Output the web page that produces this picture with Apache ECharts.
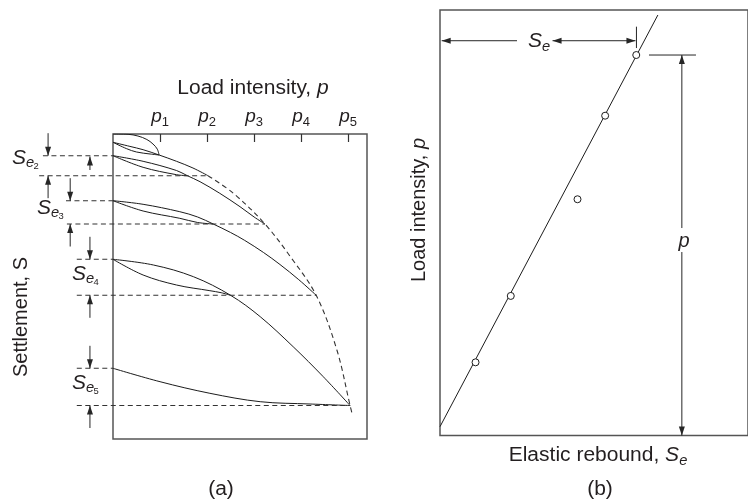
<!DOCTYPE html>
<html>
<head>
<meta charset="utf-8">
<script src="https://cdn.jsdelivr.net/npm/echarts@6/dist/echarts.min.js"></script>
<style>
html, body { margin: 0; padding: 0; background: #ffffff; }
#chart { width: 748px; height: 503px; }
</style>
</head>
<body>
<div id="chart"></div>
<script>
// ================= DATA =================
// Panel (a): settlement S (downwards) versus load intensity p (p measured in load steps)
const pTickValues = [1, 2, 3, 4, 5];
const pTickNames = ['1', '2', '3', '4', '5'];
const cycleNames = ['2', '3', '4', '5'];
const residualS = [2.17, 6.67, 12.53, 23.43];   // settlement after unloading (top of S_e)
const peakS = [4.17, 9.0, 16.13, 27.15];         // settlement at the peak load (bottom of S_e)
const peakP = [2.02, 3.23, 4.32, 5.04];          // load at each peak

const firstLoading = [[0, 0], [0.32, 0.03], [0.53, 0.2], [0.72, 0.55], [0.85, 1.0], [0.94, 1.5], [0.98, 2.1]];
const unload1 = [[0.98, 2.1], [0.79, 2.0], [0.5, 1.8], [0.29, 1.47], [0, 0.83]];
const reload1 = [[0, 0.83], [0.36, 1.24], [0.64, 1.57], [0.98, 2.1], [1.35, 2.73], [1.7, 3.4], [2.02, 4.17]];
const unload2 = [[1.58, 4.17], [1.35, 4.07], [0.64, 3.33], [0, 2.17]];
const reload2 = [[0, 2.17], [0.64, 2.73], [1.35, 3.65], [1.58, 4.17], [1.85, 4.77], [2.27, 5.93], [2.7, 7.27], [3.0, 8.3], [3.23, 9.0]];
const unload3 = [[2.13, 9.0], [1.8, 8.85], [1.42, 8.43], [0.64, 7.7], [0, 6.67]];
const reload3 = [[0, 6.67], [0.64, 7.03], [1.42, 7.77], [1.8, 8.3], [2.13, 9.0], [2.5, 9.85], [2.8, 10.64], [3.2, 11.85], [3.55, 13.05], [3.95, 14.57], [4.32, 16.13]];
const unload4 = [[2.5, 16.13], [2.3, 15.87], [2.06, 15.67], [1.35, 15.1], [0.64, 14.1], [0, 12.53]];
const reload4 = [[0, 12.53], [0.86, 13.1], [1.71, 14.27], [2.5, 16.13], [3.13, 18.27], [3.83, 21.27], [4.47, 24.27], [5.04, 27.15]];
const unload5 = [[5.04, 27.15], [4.19, 27.0], [3.13, 26.77], [2.06, 25.93], [1.0, 24.77], [0, 23.43]];
const envelope = [[2.02, 4.17], [2.56, 5.93], [3.23, 9.0], [3.76, 12.2], [4.32, 16.13], [4.76, 21.6], [5.04, 27.15], [5.09, 28.1]];

// Panel (b): load intensity p versus elastic rebound S_e
const reboundSe = [3.6, 7.17, 13.93, 16.73, 19.88];
const loadP = [0.86, 1.64, 2.776, 3.758, 4.471];
const fitLine = [[0, 0.104], [22.07, 4.941]];

// ================= CHART =================
const FONT = '"Liberation Sans", Arial, Helvetica, sans-serif';
const INK = '#231f20';
const LINE = '#1c1c1c';
const DASH = [5, 3.5];

const chart = echarts.init(document.getElementById('chart'), null, { renderer: 'canvas' });

function solid(data) {
  return { type: 'line', xAxisIndex: 0, yAxisIndex: 0, data: data, smooth: 0.35, symbol: 'none',
    silent: true, lineStyle: { color: LINE, width: 1 }, z: 3 };
}

// annotation layout for panel (a): where the dimension lines start (left of the box) and arrow columns
const resLineStart = [-1.49, -1.0, -0.77, -0.77];
const peakLineStart = [-1.57, -0.98, -0.77, -0.77];
const arrowCol = [-1.38, -0.91, -0.49, -0.49];
const arrowLen = 2.25;

const seriesList = [];
[firstLoading, unload1, reload1, unload2, reload2, unload3, reload3, unload4, reload4, unload5].forEach(function (c) {
  seriesList.push(solid(c));
});
seriesList.push({ type: 'line', xAxisIndex: 0, yAxisIndex: 0, data: envelope, smooth: 0.35, symbol: 'none',
  silent: true, lineStyle: { color: '#333', width: 1.1, type: DASH }, z: 2 });

// segment renderer: [x1, y1, x2, y2, heads(0 none, 1 end, 2 both), dashed(0/1)]
function renderSegment(params, api) {
  const a = api.coord([api.value(0), api.value(1)]);
  const b = api.coord([api.value(2), api.value(3)]);
  const heads = api.value(4);
  const isDashed = api.value(5) === 1;
  const col = isDashed ? '#333' : '#262626';
  const kids = [{ type: 'line', shape: { x1: a[0], y1: a[1], x2: b[0], y2: b[1] },
    style: { stroke: col, lineWidth: isDashed ? 1.1 : 1, lineDash: isDashed ? DASH : null } }];
  const HL = 9, HW = 3;
  function head(tip, from) {
    const dx = tip[0] - from[0], dy = tip[1] - from[1];
    const len = Math.sqrt(dx * dx + dy * dy) || 1;
    const ux = dx / len, uy = dy / len;
    const bx = tip[0] - ux * HL, by = tip[1] - uy * HL;
    kids.push({ type: 'polygon', shape: { points: [[tip[0], tip[1]], [bx - uy * HW, by + ux * HW], [bx + uy * HW, by - ux * HW]] },
      style: { fill: col } });
  }
  if (heads >= 1) head(b, a);
  if (heads >= 2) head(a, b);
  return { type: 'group', children: kids };
}

const aSegments = [];
cycleNames.forEach(function (c, i) {
  aSegments.push([resLineStart[i], residualS[i], 0, residualS[i], 0, 1]);
  aSegments.push([peakLineStart[i], peakS[i], peakP[i], peakS[i], 0, 1]);
  aSegments.push([arrowCol[i], residualS[i] - arrowLen, arrowCol[i], residualS[i], 1, 0]);
  aSegments.push([arrowCol[i], peakS[i] + arrowLen, arrowCol[i], peakS[i], 1, 0]);
});
aSegments.push([-0.49, 3.6, -0.49, 2.25, 1, 0]);

seriesList.push({ type: 'custom', xAxisIndex: 0, yAxisIndex: 0, clip: false, silent: true, renderItem: renderSegment, data: aSegments, z: 4 });

// panel (b)
const topIdx = reboundSe.length - 1;
const yArrow = 4.639;
const bSegments = [
  [7.8, yArrow, 0.17, yArrow, 1, 0],
  [11.4, yArrow, reboundSe[topIdx] - 0.08, yArrow, 2, 0],
  [reboundSe[topIdx] + 0.02, 4.553, reboundSe[topIdx] + 0.02, 4.804, 0, 0],
  [21.17, loadP[topIdx], 25.93, loadP[topIdx], 0, 0],
  [24.5, 2.438, 24.5, loadP[topIdx], 1, 0],
  [24.5, 2.156, 24.5, 0, 1, 0]
];
seriesList.push({ type: 'line', xAxisIndex: 1, yAxisIndex: 1, data: fitLine, symbol: 'none', silent: true,
  lineStyle: { color: LINE, width: 1 }, z: 3 });
seriesList.push({ type: 'scatter', xAxisIndex: 1, yAxisIndex: 1, silent: true,
  data: reboundSe.map(function (s, i) { return [s, loadP[i]]; }),
  symbol: 'circle', symbolSize: 7, itemStyle: { color: '#ffffff', borderColor: LINE, borderWidth: 1, opacity: 1 }, z: 5 });
seriesList.push({ type: 'custom', xAxisIndex: 1, yAxisIndex: 1, clip: false, silent: true, renderItem: renderSegment, data: bSegments, z: 4 });

// ---------- text ----------
function tstyle(size, italic, extra) {
  return Object.assign({ fill: INK, fontFamily: FONT, fontSize: size, fontStyle: italic ? 'italic' : 'normal', fontWeight: 'normal' }, extra || {});
}
function label(x, y, text, o) {
  o = o || {};
  const st = tstyle(o.size || 20, o.italic, {
    text: text, x: 0, y: 0,
    textAlign: o.align || 'left', align: o.align || 'left',
    textVerticalAlign: o.valign || 'top', verticalAlign: o.valign || 'top'
  });
  if (o.rich) st.rich = o.rich;
  return { type: 'text', x: x, y: y, rotation: o.rotation || 0, scaleX: o.scaleX || 1, scaleY: 1, silent: true, z: 100, style: st };
}
const richMain = {
  n: tstyle(20, false, { lineHeight: 20, verticalAlign: 'top' }),
  i: tstyle(20, true, { lineHeight: 20, verticalAlign: 'top' }),
  sub: tstyle(14, true, { lineHeight: 20, verticalAlign: 'top', padding: [9, 0, 0, 0] })
};
const SX = 1.05;

const graphicList = [
  label(253, 78, '{n|Load intensity, }{i|p}', { align: 'center', rich: richMain, scaleX: SX }),
  label(21, 317, 'Settlement, S', { align: 'center', valign: 'middle', rotation: Math.PI / 2 }),
  label(419, 210, '{n|Load intensity, }{i|p}', { align: 'center', valign: 'middle', rotation: Math.PI / 2, rich: richMain }),
  label(598, 445, '{n|Elastic rebound, }{i|S}{sub|e}', { align: 'center', rich: richMain, scaleX: SX }),
  label(528, 31.6, '{i|S}{sub|e}', { rich: richMain, scaleX: SX }),
  label(684, 231, 'p', { align: 'center', italic: true }),
  label(221, 479, '(a)', { align: 'center', scaleX: SX }),
  label(600, 479, '(b)', { align: 'center', scaleX: SX })
];
// S_e labels of panel (a): [S left, S baseline]
const seLabelPos = [[12, 165], [37, 215], [72, 281], [72, 390]];
cycleNames.forEach(function (c, i) {
  const x = seLabelPos[i][0], b = seLabelPos[i][1];
  graphicList.push(label(x, b - 16.9, 'S', { italic: true, scaleX: SX }));
  graphicList.push(label(x + 14, b + 3 - 12, 'e', { italic: true, size: 14, scaleX: SX }));
  graphicList.push(label(x + 21.5, b + 5 - 7.6, c, { size: 9, scaleX: SX }));
});

const option = {
  animation: false,
  backgroundColor: '#ffffff',
  grid: [
    { left: 113, top: 134, width: 254, height: 305, show: true, borderColor: '#555', borderWidth: 1.5, backgroundColor: 'transparent' },
    { left: 440, top: 10, width: 312, height: 425.5, show: true, borderColor: '#555', borderWidth: 1.5, backgroundColor: 'transparent' }
  ],
  xAxis: [
    { gridIndex: 0, type: 'value', min: 0, max: 5.4, interval: 1, position: 'top',
      axisLine: { show: false }, splitLine: { show: false },
      axisTick: { show: true, inside: true, length: 8, lineStyle: { color: '#333', width: 1.2 } },
      axisLabel: {
        show: true, margin: 7, showMinLabel: false, showMaxLabel: false,
        formatter: function (v) {
          const i = pTickValues.indexOf(v);
          return i < 0 ? '' : '{p|p}{s|' + pTickNames[i] + '}';
        },
        rich: {
          p: { color: INK, fontFamily: FONT, fontSize: 19, fontStyle: 'italic', lineHeight: 20, verticalAlign: 'top' },
          s: { color: INK, fontFamily: FONT, fontSize: 13, lineHeight: 20, verticalAlign: 'top', padding: [9, 0, 0, 0] }
        }
      } },
    { gridIndex: 1, type: 'value', min: 0, max: 31.2, show: false }
  ],
  yAxis: [
    { gridIndex: 0, type: 'value', min: 0, max: 30.5, inverse: true, show: false },
    { gridIndex: 1, type: 'value', min: 0, max: 5, show: false }
  ],
  series: seriesList,
  graphic: graphicList
};
chart.setOption(option);
</script>
</body>
</html>
